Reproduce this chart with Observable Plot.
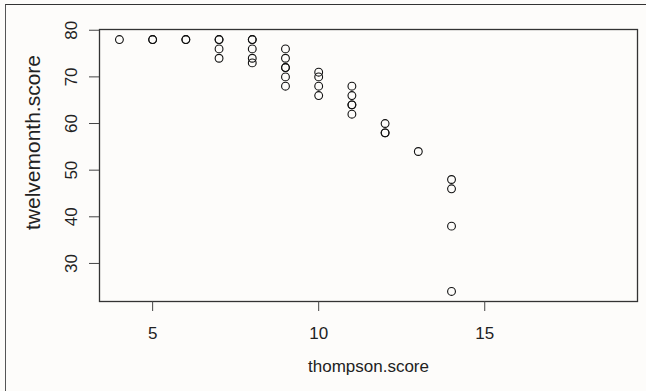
<!DOCTYPE html>
<html>
<head>
<meta charset="utf-8">
<script src="https://cdn.jsdelivr.net/npm/d3@7"></script>
<script src="https://cdn.jsdelivr.net/npm/@observablehq/plot@0.6"></script>
<style>
  html, body { margin: 0; padding: 0; background: #fdfcfa; }
  #wrap { position: relative; width: 646px; height: 391px; overflow: hidden; }
  #outer { position: absolute; left: 5px; top: 4px; width: 645px; height: 390px;
           border-top: 1.5px solid #333; border-left: 1.5px solid #555; box-sizing: border-box; }
  #chart { position: absolute; left: 0; top: 0; }
  svg { font-family: "Liberation Sans", Arial, Helvetica, sans-serif; }
</style>
</head>
<body>
<div id="wrap">
  <div id="outer"></div>
  <div id="chart"></div>
</div>
<script>
// Values
const thompsonScore = [
  4,
  5, 5,
  6, 6,
  7, 7, 7, 7,
  8, 8, 8, 8, 8,
  9, 9, 9, 9, 9, 9,
  10, 10, 10, 10,
  11, 11, 11, 11, 11,
  12, 12, 12,
  13,
  14, 14, 14, 14
];
const twelvemonthScore = [
  78,
  78, 78,
  78, 78,
  78, 78, 76, 74,
  78, 78, 76, 74, 73,
  76, 74, 72, 72, 70, 68,
  71, 70, 68, 66,
  68, 66, 64, 64, 62,
  60, 58, 58,
  54,
  48, 46, 38, 24
];
const xTicks = [5, 10, 15];
const yTicks = [30, 40, 50, 60, 70, 80];
const xLabel = "thompson.score";
const yLabel = "twelvemonth.score";

const points = thompsonScore.map((x, i) => ({x, y: twelvemonthScore[i]}));

const chart = Plot.plot({
  width: 646,
  height: 391,
  marginLeft: 99,
  marginTop: 29,
  marginRight: 9,
  marginBottom: 90,
  style: {background: "transparent", fontSize: "17px", fontFamily: "Liberation Sans, Arial, sans-serif", color: "#222"},
  x: {domain: [3.4, 19.6]},
  y: {domain: [21.84, 80.16]},
  marks: [
    Plot.frame({stroke: "#333", strokeWidth: 1.3}),
    Plot.axisX({ticks: xTicks, tickSize: 10, tickPadding: 15, label: null, stroke: "#444", fill: "#222", fontSize: 17}),
    Plot.axisY({ticks: yTicks, tickSize: 10, tickPadding: 13, tickRotate: -90, label: null, stroke: "#444", fill: "#222", fontSize: 17}),
    Plot.text([xLabel], {frameAnchor: "bottom", dy: 70, fill: "#222", fontSize: 17}),
    Plot.text([yLabel], {frameAnchor: "left", textAnchor: "middle", lineAnchor: "middle", dx: -66, dy: -23, rotate: -90, fill: "#222", fontSize: 21}),
    Plot.dot(points, {x: "x", y: "y", r: 3.9, stroke: "#111", strokeWidth: 1.1, fill: "none"})
  ]
});
document.getElementById("chart").appendChild(chart);
</script>
</body>
</html>
